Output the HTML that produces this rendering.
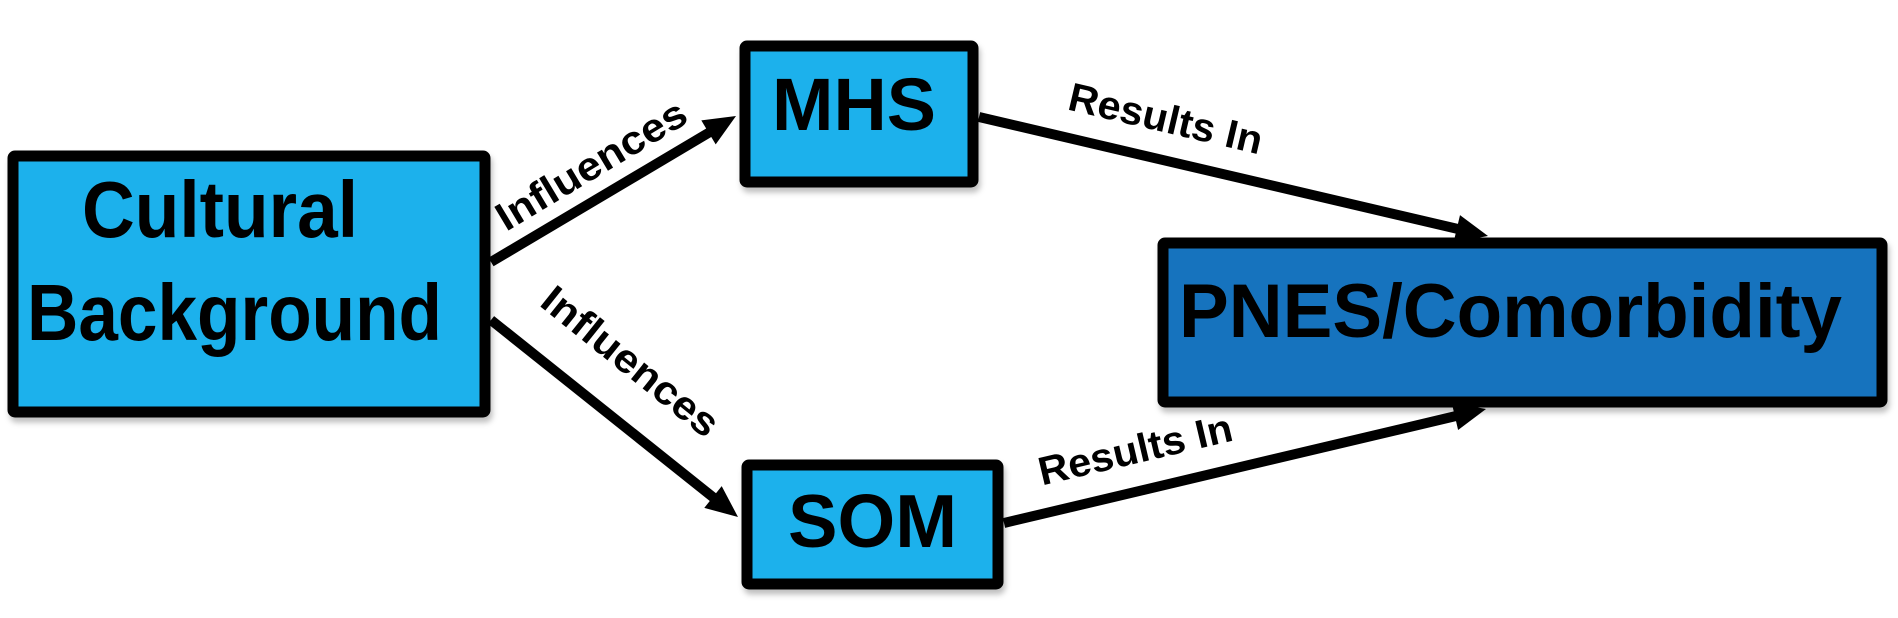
<!DOCTYPE html>
<html><head><meta charset="utf-8"><style>
html,body{margin:0;padding:0;background:#fff;}
svg{display:block;}
text{font-family:"Liberation Sans",sans-serif;font-weight:bold;fill:#000;}
</style></head><body>
<svg width="1898" height="618" viewBox="0 0 1898 618" xmlns="http://www.w3.org/2000/svg">
<defs>
<filter id="sh" x="-5%" y="-5%" width="110%" height="115%"><feDropShadow dx="2" dy="5" stdDeviation="3" flood-color="#000" flood-opacity="0.25"/></filter>
</defs>
<g stroke="#000" stroke-width="10" fill="none">
<line x1="491" y1="262" x2="710" y2="132"/>
<line x1="491" y1="320" x2="714" y2="498"/>
<line x1="979" y1="117" x2="1458" y2="229"/>
<line x1="1004" y1="523" x2="1456" y2="416"/>
</g>
<g fill="#000">
<polygon points="736,116 715.7,144.4 701.3,120.4"/>
<polygon points="738,517 704.3,507.9 721.7,486.1"/>
<polygon points="1488,236 1453.6,242.3 1460,215.1"/>
<polygon points="1486,409 1458.1,430 1451.7,402.8"/>
</g>
<g filter="url(#sh)" stroke="#000" stroke-width="11">
<rect x="13" y="156" width="472" height="256" fill="#1fb1ec" rx="2"/>
<rect x="745" y="46" width="228" height="136" fill="#1fb1ec" rx="2"/>
<rect x="747" y="465" width="251" height="119" fill="#1fb1ec" rx="2"/>
<rect x="1163" y="243" width="719" height="159" fill="#1273be" rx="2"/>
</g>
<text x="82" y="237" font-size="80" textLength="276" lengthAdjust="spacingAndGlyphs">Cultural</text>
<text x="27" y="340" font-size="80" textLength="415" lengthAdjust="spacingAndGlyphs">Background</text>
<text x="772" y="130" font-size="74" textLength="164" lengthAdjust="spacingAndGlyphs">MHS</text>
<text x="788" y="547" font-size="75" textLength="169" lengthAdjust="spacingAndGlyphs">SOM</text>
<text x="1179" y="337" font-size="76" textLength="663" lengthAdjust="spacingAndGlyphs">PNES/Comorbidity</text>
<text transform="translate(593,168) rotate(-31)" text-anchor="middle" font-size="40" textLength="215" lengthAdjust="spacingAndGlyphs" x="0" y="10">Influences</text>
<text transform="translate(622,372) rotate(38.7)" text-anchor="middle" font-size="40" textLength="215" lengthAdjust="spacingAndGlyphs" x="0" y="0">Influences</text>
<text transform="translate(1164,126) rotate(13.2)" text-anchor="middle" font-size="40" textLength="198" lengthAdjust="spacingAndGlyphs" x="0" y="6">Results In</text>
<text transform="translate(1137,457) rotate(-13.2)" text-anchor="middle" font-size="40" textLength="198" lengthAdjust="spacingAndGlyphs" x="0" y="6">Results In</text>
</svg>
</body></html>
